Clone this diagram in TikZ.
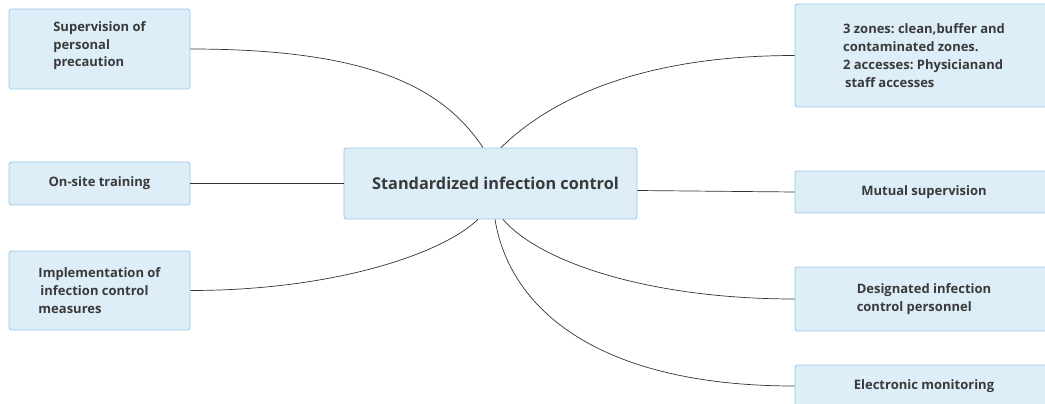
\documentclass[tikz,border=0pt]{standalone}
\usepackage{fontspec}
\setmainfont{Open Sans}
\frenchspacing
\definecolor{boxfill}{HTML}{DDEEF9}
\definecolor{boxline}{HTML}{9CC8E8}
\definecolor{txt}{HTML}{3A3A3A}
\begin{document}
\begin{tikzpicture}[x=1pt, y=-1pt,
   leaf/.style={draw=boxline, fill=boxfill, rounded corners=2.5pt, line width=0.8pt,
       text=txt, font=\bfseries\fontsize{13}{17.8}\selectfont, align=left, inner sep=0pt},
   hub/.style={leaf, font=\bfseries\fontsize{16.3}{20}\selectfont},
   link/.style={draw=black!80, line width=0.7pt}]

\clip (0,0) rectangle (1045,404);
\useasboundingbox (0,0) rectangle (1045,404);

\node[leaf, minimum width=181pt, minimum height=80pt] (sup) at (99.5,49)
    {Supervision of\\personal\\precaution\\[-8pt]\mbox{}};
\node[leaf, minimum width=181pt, minimum height=43pt] (train) at (99.5,183.5)
    {On-site training};
\node[leaf, minimum width=181pt, minimum height=79pt] (impl) at (99.5,290.5)
    {Implementation of\\\hspace{2pt}infection control\\measures};

\node[hub, minimum width=293pt, minimum height=71pt] (ctr) at (490.5,183.5)
    {\hspace{10pt}Standardized infection control};

\node[leaf, minimum width=258pt, minimum height=103pt] (zones) at (924,55.5)
    {3 zones: clean,buffer and\\contaminated zones.\\2 accesses: Physicianand\\\hspace{2pt}staff accesses};
\node[leaf, minimum width=258pt, minimum height=42pt] (mutual) at (924,192)
    {Mutual supervision};
\node[leaf, minimum width=258pt, minimum height=64pt] (desig) at (924,299)
    {Designated infection\\control personnel};
\node[leaf, minimum width=258pt, minimum height=42pt] (elec) at (924,386)
    {Electronic monitoring};

\coordinate (tl) at ([xshift=-7.5pt]ctr.north);
\coordinate (tr) at ([xshift=10.5pt]ctr.north);
\coordinate (bl) at ([xshift=-12.5pt]ctr.south);
\coordinate (bm) at ([xshift=4.5pt]ctr.south);
\coordinate (br) at ([xshift=12.5pt]ctr.south);

\draw[link] (sup.east) .. controls +(180,0) and +(-40,-60) .. (tl);
\draw[link] (train.east) -- (ctr.west);
\draw[link] (impl.east) .. controls +(140,0) and +(-38,36) .. (bl);
\draw[link] (zones.west) .. controls +(-155,0) and +(49,-48) .. (tr);
\draw[link] ([yshift=-7pt]ctr.east) -- (mutual.west);
\draw[link] (desig.west) .. controls +(-145,0) and +(37,43) .. (br);
\draw[link] (elec.west) .. controls +(-195,0) and +(15,91) .. (bm);

\end{tikzpicture}
\end{document}
